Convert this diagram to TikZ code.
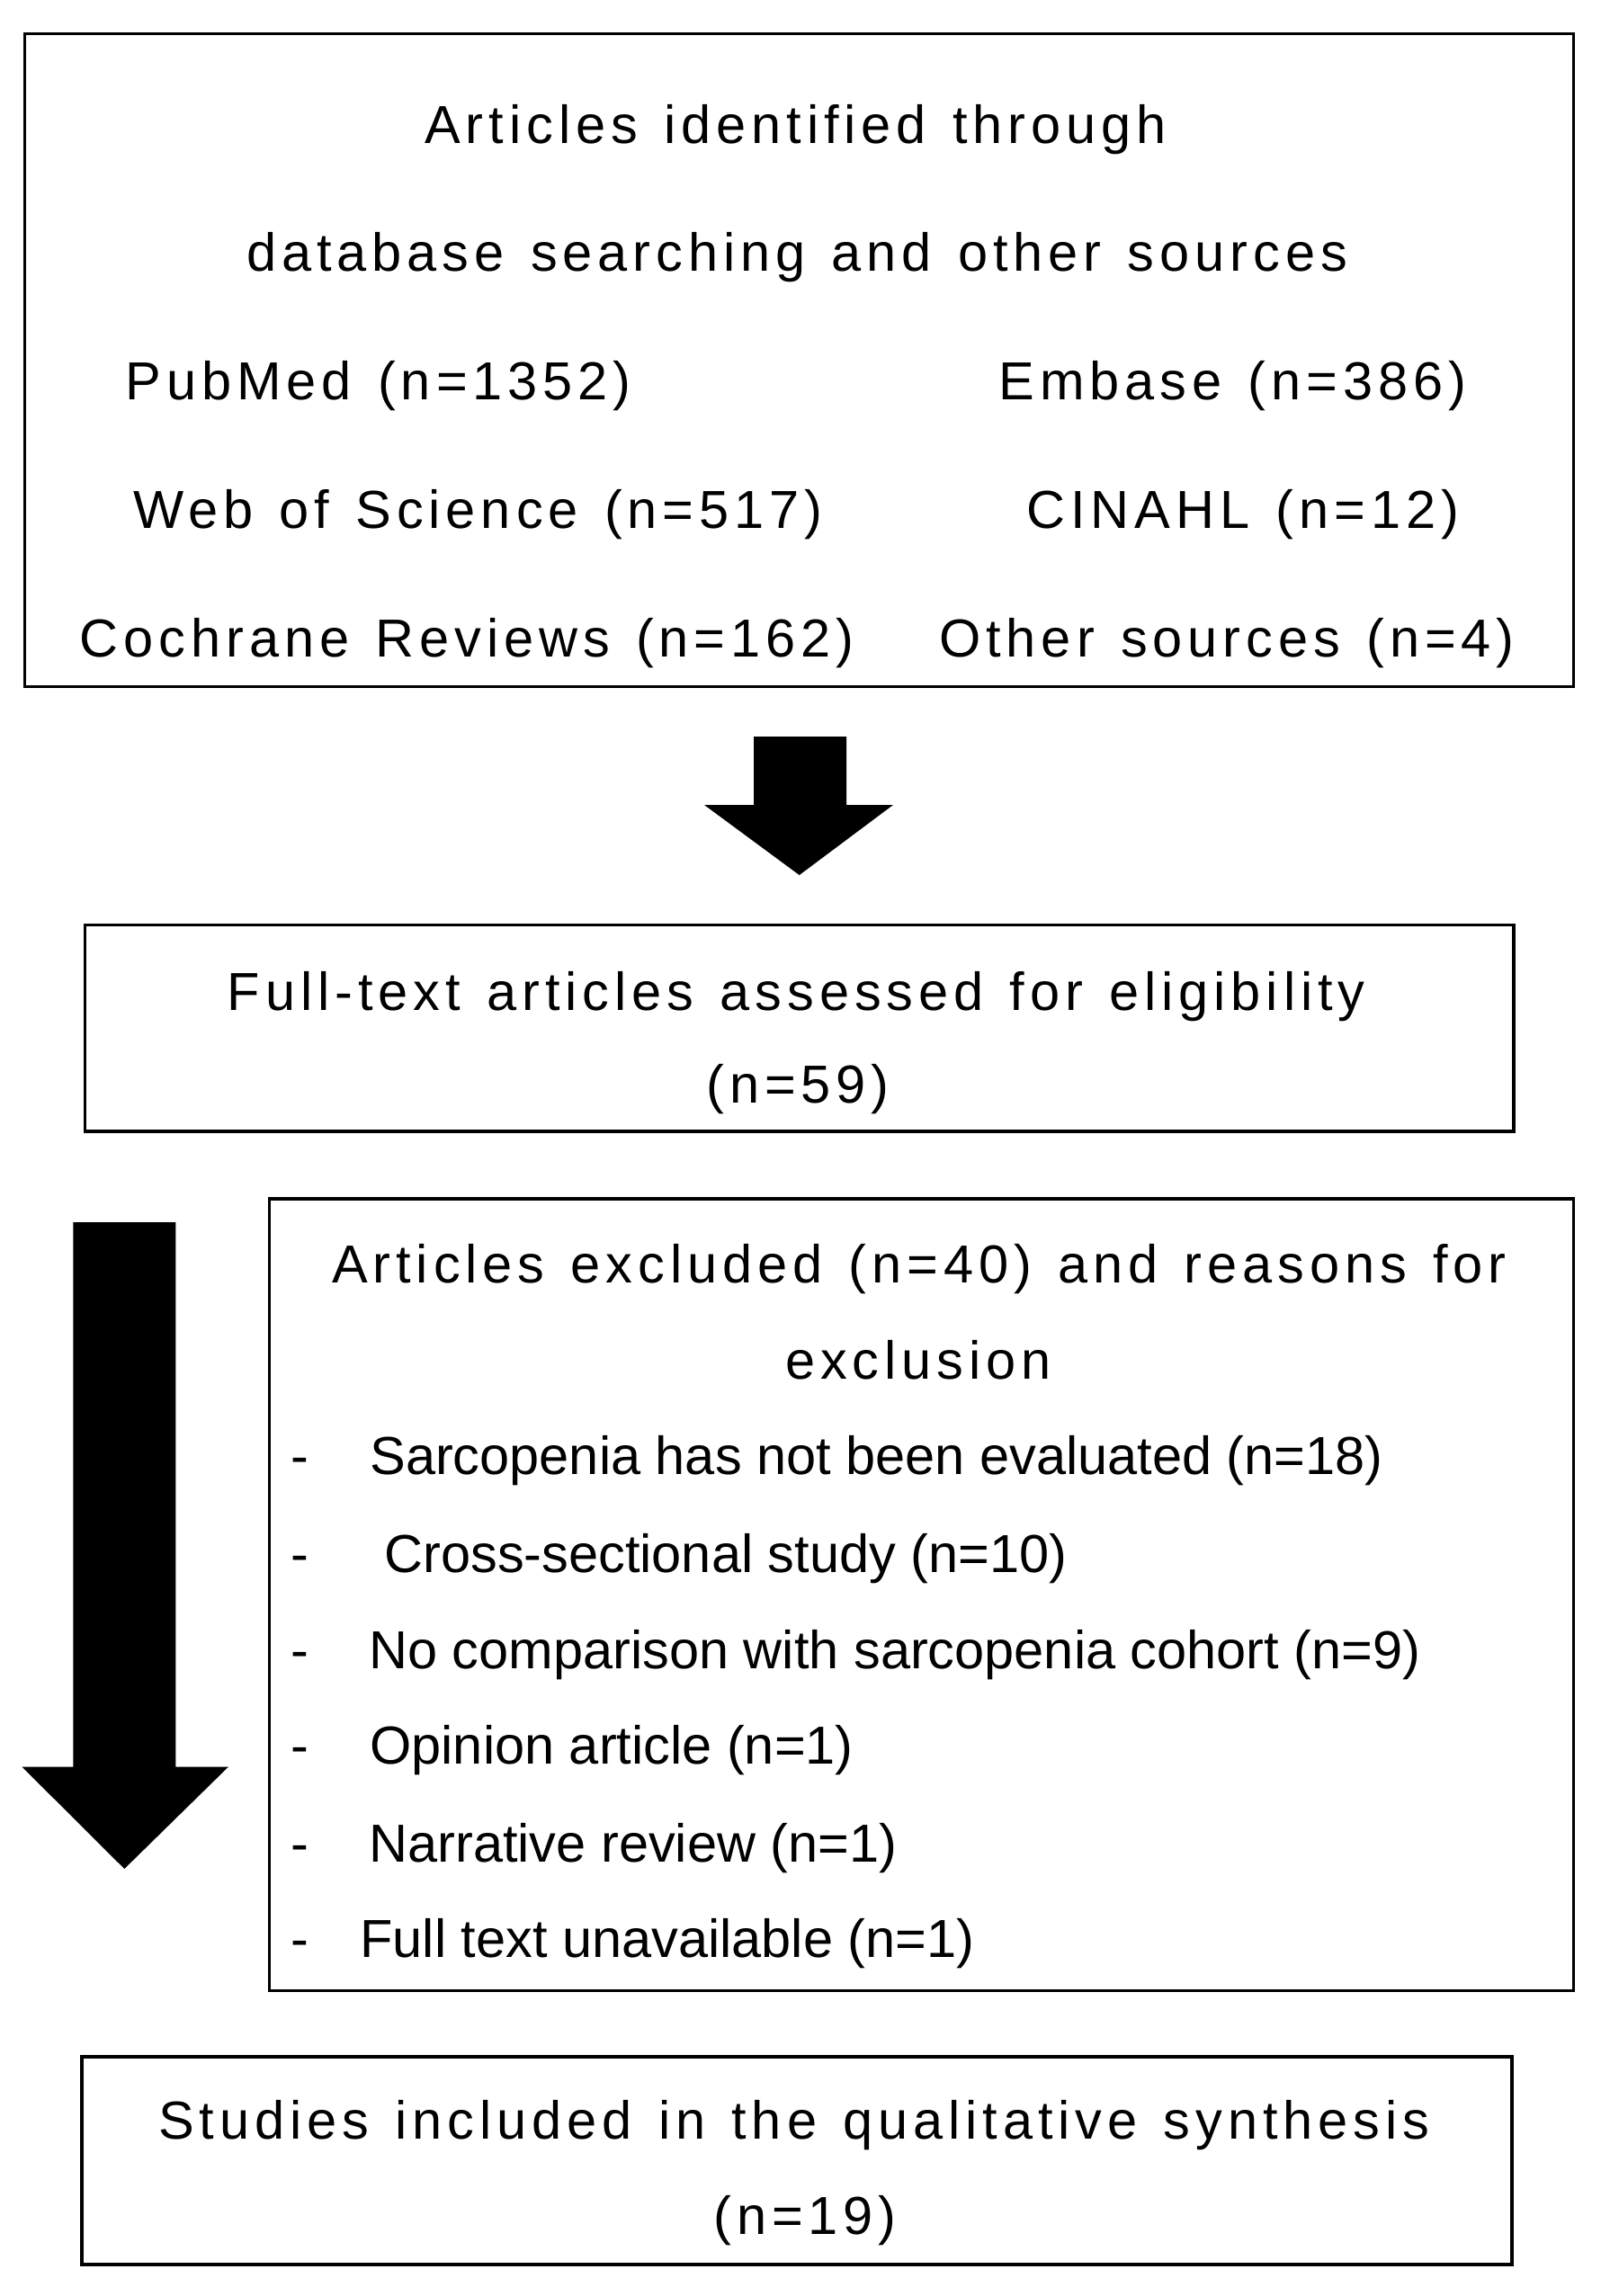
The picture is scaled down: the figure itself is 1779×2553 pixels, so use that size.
\documentclass[tikz,border=0pt]{standalone}
\usepackage{fontspec}
\setmainfont{Liberation Sans}
\newfontfamily\widefont[LetterSpace=10,WordSpace=1.3]{Liberation Sans}
\tikzset{
  frame/.style = {draw, line width=1.6pt, inner sep=0pt},
  head/.style  = {font={\widefont\fontsize{29.75}{36}\selectfont}, anchor=base, inner sep=0pt},
  reason/.style = {font={\fontsize{29.75}{36}\selectfont}, anchor=base west, inner sep=0pt},
  bullet/.style  = {font={\fontsize{29.75}{36}\selectfont}, anchor=base, inner sep=0pt},
  blockarrow/.style = {fill=black, draw=none}
}

\begin{document}
\begin{tikzpicture}[x=0.5pt,y=-0.5pt]
  \useasboundingbox (0,0) rectangle (1779,2553);
  % boxes
  \node[frame, minimum width=861pt, minimum height=363pt] (search) at (888.7,400.3) {};
  \node[frame, minimum width=794.3pt, minimum height=114.7pt] (fulltext) at (888.7,1143.3) {};
  \node[frame, minimum width=725.1pt, minimum height=440.3pt] (excluded) at (1024.6,1773.3) {};
  \node[frame, minimum width=795pt, minimum height=115.5pt] (included) at (886,2402.5) {};
  % identification
  \node[head] (idA) at (884.6,159) {Articles identified through};
  \node[head] (idB) at (886.2,301) {database searching and other sources};
  \node[head] (pubmed)   at (420.7,444) {PubMed (n=1352)};
  \node[head] (wos)      at (531.4,587) {Web of Science (n=517)};
  \node[head] (cochrane) at (519.2,730) {Cochrane Reviews (n=162)};
  \node[head] (embase)   at (1370.4,444) {Embase (n=386)};
  \node[head] (cinahl)   at (1381.8,587) {CINAHL (n=12)};
  \node[head] (other)    at (1364,730) {Other sources (n=4)};
  % eligibility
  \node[head] (ftA) at (885.4,1123) {Full-text articles assessed for eligibility};
  \node[head] (ftB) at (887,1226) {(n=59)};
  % exclusion
  \node[head] (exA) at (1022,1426) {Articles excluded (n=40) and reasons for};
  \node[head] (exB) at (1021,1533) {exclusion};
  \foreach \y/\x/\txt [count=\i] in {
      1639/411/{Sarcopenia has not been evaluated (n=18)},
      1748/427/{Cross-sectional study (n=10)},
      1855/410/{No comparison with sarcopenia cohort (n=9)},
      1961/411/{Opinion article (n=1)},
      2070/410/{Narrative review (n=1)},
      2176/400/{Full text unavailable (n=1)}} {
    \node[bullet] (d\i) at (333,\y) {-};
    \node[reason] (r\i) at (\x,\y) {\txt};
  }
  % included
  \node[head] (inA) at (883,2378) {Studies included in the qualitative synthesis};
  \node[head] (inB) at (895,2484) {(n=19)};
  % arrows
  \fill[blockarrow] (838,819) -- (941,819) -- (941,895) -- (993,895) -- (888.7,973)
    -- (783,895) -- (838,895) -- cycle;
  \fill[blockarrow] (81.4,1359) -- (195.3,1359) -- (195.3,1964.5) -- (254,1964.5)
    -- (138.3,2078) -- (24.4,1964.5) -- (81.4,1964.5) -- cycle;
\end{tikzpicture}
\end{document}
